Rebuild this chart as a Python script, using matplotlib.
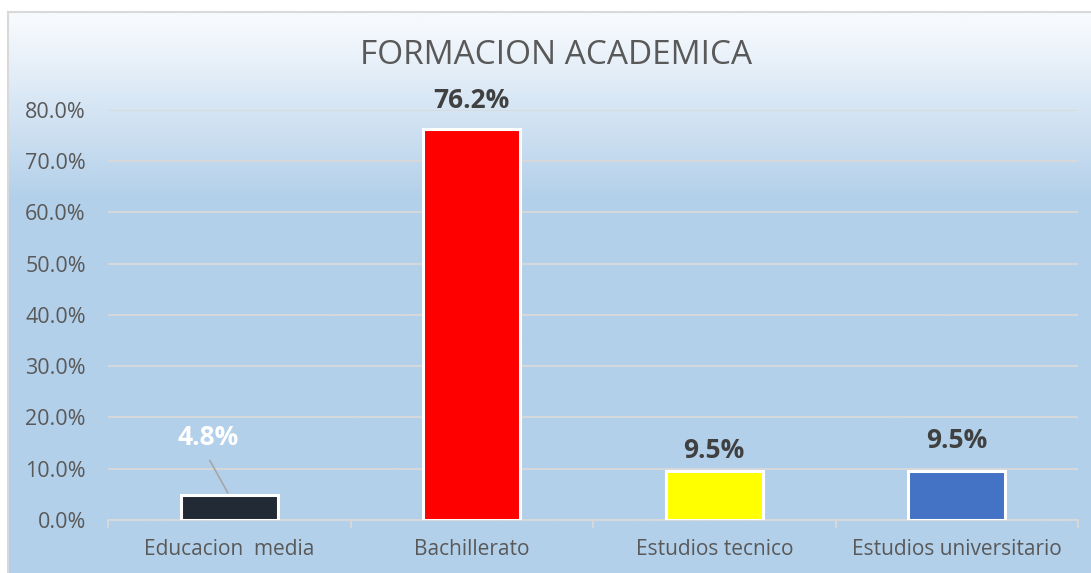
import matplotlib
matplotlib.use("Agg")
import matplotlib.pyplot as plt
import numpy as np
from matplotlib.ticker import FuncFormatter, MultipleLocator

categories = ["Educacion  media", "Bachillerato", "Estudios tecnico", "Estudios universitario"]
values = [0.048, 0.762, 0.095, 0.095]
labels = ["4.8%", "76.2%", "9.5%", "9.5%"]
colors = ["#222a35", "#ff0000", "#ffff00", "#4472c4"]
title = "FORMACION ACADEMICA"

FONT = ["Open Sans", "DejaVu Sans"]
plt.rcParams['font.family'] = FONT

W, H = 1091, 573
fig = plt.figure(figsize=(W / 100, H / 100), dpi=100)

# background gradient
bg = fig.add_axes([0, 0, 1, 1])
bg.axis("off")
top = np.array([0xf6, 0xf9, 0xfd]) / 255
bot = np.array([0xb3, 0xd0, 0xea]) / 255
ys = np.arange(H)
t = np.clip((ys - 12) / (190 - 12), 0, 1)
grad = top[None, :] * (1 - t[:, None]) + bot[None, :] * t[:, None]
img = np.repeat(grad[:, None, :], 2, axis=1)
bg.imshow(img, extent=[8, W + 5, H, 12], aspect="auto", interpolation="bilinear")
bg.plot([8, 8], [12, H], color="#d9d9d9", lw=1.5)
bg.plot([8, W], [12, 12], color="#d9d9d9", lw=1.5)
bg.set_xlim(0, W)
bg.set_ylim(H, 0)

ax = fig.add_axes([108 / W, (H - 520) / H, 970 / W, 410 / H])
ax.patch.set_alpha(0)
x = np.arange(len(categories))
ax.bar(x, values, width=0.4, color=colors, edgecolor="white", linewidth=2.2, zorder=3)
ax.set_xlim(-0.5, len(categories) - 0.5)
ax.set_ylim(0, 0.8)
ax.yaxis.set_major_locator(MultipleLocator(0.1))
ax.yaxis.set_major_formatter(FuncFormatter(lambda v, p: f"{v*100:.1f}%"))
ax.grid(axis="y", color="#d9d9d9", lw=1.3, zorder=0)
for s in ["top", "right", "left"]:
    ax.spines[s].set_visible(False)
ax.spines["bottom"].set_color("#d9d9d9")
ax.spines["bottom"].set_linewidth(1.3)
ax.tick_params(axis="y", length=0, labelsize=15.5, labelcolor="#595959", pad=16)
ax.set_xticks(x)
ax.set_xticklabels(categories)
ax.tick_params(axis="x", length=0, labelsize=15, labelcolor="#595959", pad=14)
ax.set_xticks(np.arange(-0.5, len(categories)), minor=True)
ax.tick_params(axis="x", which="minor", length=6, color="#d9d9d9", width=1.3)

# data labels
offs = [(-15, 42), (0, 21), (0, 15), (0, 22)]
for i, (v, lab) in enumerate(zip(values, labels)):
    col = "white" if i == 0 else "#404040"
    ax.annotate(lab, (x[i], v), xytext=offs[i],
                textcoords="offset points", ha="center", va="center",
                fontsize=19, fontweight="bold", color=col, zorder=5)
# leader line for first label
ax.annotate("", xy=(x[0], values[0]), xytext=(-15, 27), textcoords="offset points",
            arrowprops=dict(arrowstyle="-", color="#a6a6a6", lw=1.2), zorder=4)

fig.text(556 / W, 1 - 55 / H, title, ha="center", va="center", fontsize=24, color="#595959")

fig.savefig("out.png", dpi=100)
